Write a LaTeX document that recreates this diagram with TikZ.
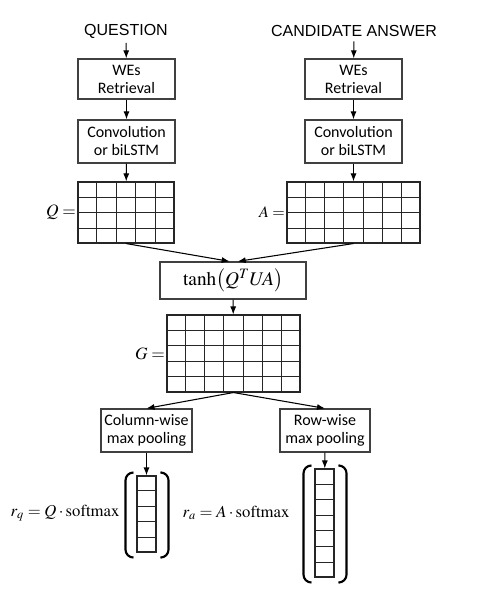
\documentclass[tikz,border=0pt]{standalone}
\usepackage{mathptmx}
\usepackage[no-math]{fontspec}
\setmainfont{Carlito}
\newfontfamily\headfont{Liberation Sans}
\usetikzlibrary{calc,positioning,arrows.meta}
\newcommand{\gridcells}[3]{%
  \pgfmathtruncatemacro\nc{#2-1}\pgfmathtruncatemacro\nr{#3-1}%
  \foreach \i in {1,...,\nc}
    \draw[cell] ($(#1.north west)!\i/#2!(#1.north east)$) -- ($(#1.south west)!\i/#2!(#1.south east)$);
  \foreach \j in {1,...,\nr}
    \draw[cell] ($(#1.north west)!\j/#3!(#1.south west)$) -- ($(#1.north east)!\j/#3!(#1.south east)$);
}
\newcommand{\parens}[1]{%
  \draw[paren] ($(#1.north west)+(-3,-3)$) -- ++(-8,0) |- ($(#1.south west)+(-3,5)$);
  \draw[paren] ($(#1.north east)+(5,-3)$) -- ++(7,0) |- ($(#1.south east)+(5,5)$);
}

\begin{document}
\begin{tikzpicture}[x=0.75pt,y=-0.75pt,>={Latex[length=6pt,width=4.5pt]},
  box/.style={draw=black!75,line width=0.9pt,align=center,inner sep=0pt,
    font=\fontsize{12}{13.5}\selectfont},
  head/.style={font=\headfont\fontsize{12}{14}\selectfont},
  mat/.style={draw=black!85,line width=0.8pt,inner sep=0pt},
  cell/.style={draw=black!85,line width=0.65pt},
  lab/.style={inner sep=1pt},
  paren/.style={line width=1.6pt,rounded corners=6pt},
  arr/.style={->,line width=0.8pt}]
  \useasboundingbox (0,0) rectangle (479,598);

  \node[head] (qt) at (126,31) {QUESTION};
  \node[head] (at) at (354,31) {CANDIDATE ANSWER};
  \node[box,minimum width=72.75pt,minimum height=30pt] (we1) at (126.5,79) {WEs\\Retrieval};
  \node[box,minimum width=72.75pt,minimum height=30pt] (we2) at (353.5,79) {WEs\\Retrieval};
  \node[box,minimum width=72.75pt,minimum height=32.25pt] (cv1) at (126.5,141.5) {Convolution\\or biLSTM};
  \node[box,minimum width=72.75pt,minimum height=32.25pt] (cv2) at (353.5,141.5) {Convolution\\or biLSTM};

  \node[mat,minimum width=72pt,minimum height=45.75pt] (Q) at (126,212.5) {};
  \gridcells{Q}{5}{4}
  \node[lab,left,font=\fontsize{13}{15}\selectfont] (Ql) at (Q.west) {$Q=$};
  \node[mat,minimum width=99.75pt,minimum height=45.75pt] (A) at (353.5,212.5) {};
  \gridcells{A}{7}{4}
  \node[lab,left,font=\fontsize{12}{14}\selectfont] (Al) at (A.west) {$A=$};

  \node[box,minimum width=109.5pt,minimum height=27.75pt,font=\fontsize{14.5}{16}\selectfont] (th) at (233,280.5)
    {$\tanh\bigl(Q^{T}U\!A\bigr)$};

  \node[mat,minimum width=99.75pt,minimum height=57.75pt] (G) at (233.5,353.5) {};
  \gridcells{G}{7}{5}
  \node[lab,left,font=\fontsize{13}{15}\selectfont] (Gl) at (G.west) {$G=$};

  \node[box,minimum width=68.25pt,minimum height=32.25pt] (cw) at (146.5,430.5) {Column-wise\\max pooling};
  \node[box,minimum width=67.5pt,minimum height=32.25pt] (rw) at (325,430.5) {Row-wise\\max pooling};

  \node[mat,minimum width=14.25pt,minimum height=57pt] (vq) at (146.5,514) {};
  \gridcells{vq}{1}{5}
  \parens{vq}
  \node[lab,anchor=east,font=\fontsize{12.5}{14}\selectfont] (rq) at (121,513) {$r_q = Q\cdot\mathrm{softmax}$};
  \node[mat,minimum width=14.25pt,minimum height=81pt] (va) at (324.5,523) {};
  \gridcells{va}{1}{7}
  \parens{va}
  \node[lab,anchor=east,font=\fontsize{12.5}{14}\selectfont] (ra) at (291,513) {$r_a = A\cdot\mathrm{softmax}$};

  \draw[arr] (qt) -- (we1);
  \draw[arr] (at) -- (we2);
  \draw[arr] (we1) -- (cv1);
  \draw[arr] (we2) -- (cv2);
  \draw[arr] (cv1) -- (Q);
  \draw[arr] (cv2) -- (A);
  \draw[arr] (Q.south) -- ([xshift=-2.5pt]th.north);
  \draw[arr] (A.south) -- ([xshift=3.5pt]th.north);
  \draw[arr] (th) -- (G);
  \draw[arr] (G.south) -- (cw.north);
  \draw[arr] (G.south) -- (rw.north);
  \draw[arr] (cw) -- (vq);
  \draw[arr] (rw) -- (va);
\end{tikzpicture}
\end{document}
